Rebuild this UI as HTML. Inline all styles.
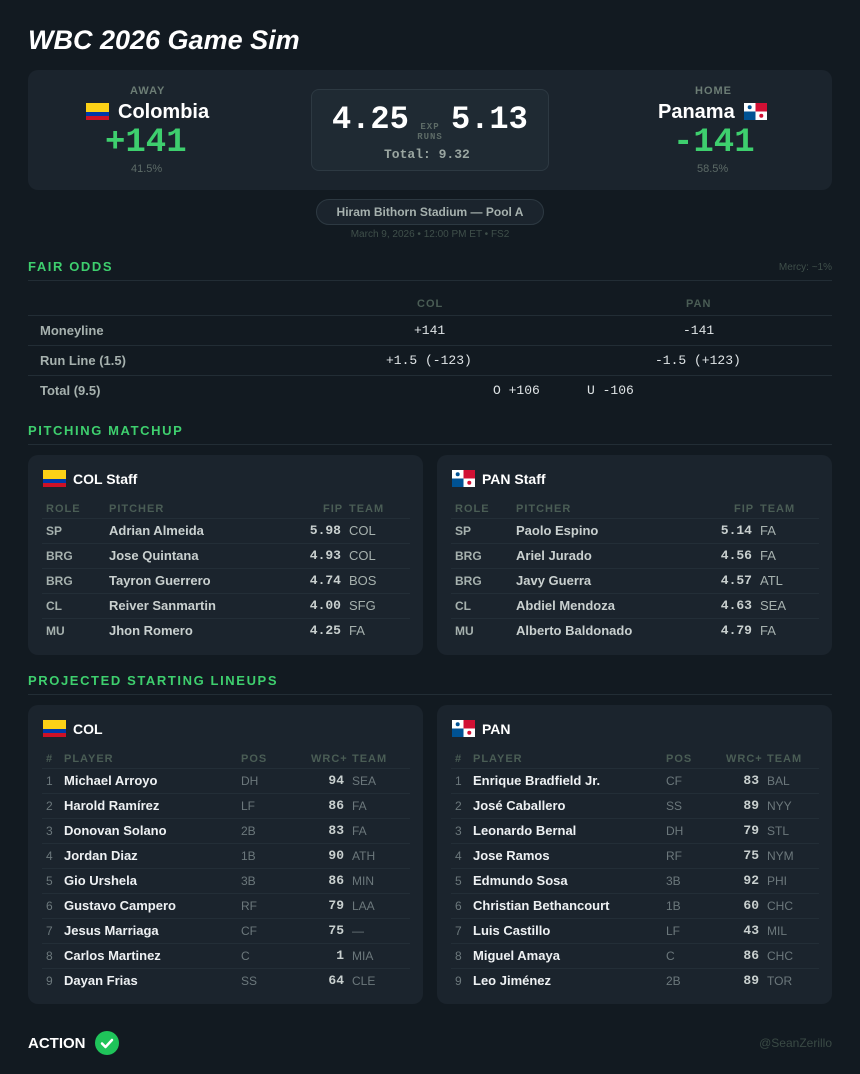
<!DOCTYPE html>
<html><head><meta charset="utf-8"><style>
*{margin:0;padding:0;box-sizing:border-box}
body{width:860px;height:1074px;background:#121a21;font-family:"Liberation Sans",sans-serif;position:relative;overflow:hidden;color:#e8ecef}
.a{position:absolute;white-space:nowrap}
.mono{font-family:"Liberation Mono",monospace}
.card{position:absolute;background:#1b242d;border-radius:10px}
.sec{position:absolute;left:28px;font-size:13px;font-weight:bold;letter-spacing:1.6px;color:#3ecf6e}
.line{position:absolute;left:28px;width:804px;height:1px;background:#222d35}
.hl{position:absolute;height:1px;background:#232e37}
.h{font-size:11px;letter-spacing:1px;color:#4a5d55;font-weight:bold}
.nm{font-size:13px;font-weight:bold;color:#c9d0cf}
.nw{font-size:13px;font-weight:bold;color:#eef1f3}
.rl{font-size:12px;font-weight:bold;color:#a6b1ae}
.tm{font-size:13px;color:#a6b1ae}
.tg{font-size:12px;color:#6c787c}
.num{font-family:"Liberation Mono",monospace;font-size:13px;font-weight:bold;color:#c9d0cf;text-align:right}
.ct{font-size:14px;font-weight:bold;color:#fff}
</style></head><body>
<div class="a" style="left:28px;top:25px;font-size:27px;font-weight:bold;font-style:italic;color:#fff">WBC 2026 Game Sim</div>

<div class="card" style="left:28px;top:70px;width:804px;height:120px"></div>
<div class="a h" style="left:130px;top:85px;font-size:11px;color:#6c7d75">AWAY</div>
<svg class="a" style="left:86px;top:103px" width="23" height="17"><rect width="23" height="9" fill="#fcd116"/><rect y="9" width="23" height="4" fill="#0038a8"/><rect y="13" width="23" height="4" fill="#ce1126"/></svg>
<div class="a" style="left:118px;top:101px;font-size:20px;font-weight:bold;color:#fff">Colombia</div>
<div class="a mono" style="left:105px;top:124px;font-size:34px;font-weight:bold;color:#3ecf6e">+141</div>
<div class="a" style="left:131px;top:163px;font-size:11px;color:#5d6b67">41.5%</div>

<div class="a" style="left:311px;top:89px;width:238px;height:82px;border:1px solid #2d3942;border-radius:8px;background:#1f2a33"></div>
<div class="a mono" style="left:332px;top:101px;font-size:32px;font-weight:bold;color:#fff">4.25</div>
<div class="a mono" style="left:451px;top:101px;font-size:32px;font-weight:bold;color:#fff">5.13</div>
<div class="a mono" style="left:415px;top:122px;width:30px;text-align:center;font-size:9px;font-weight:bold;color:#5d6b67;line-height:10px;letter-spacing:1px">EXP<br>RUNS</div>
<div class="a mono" style="left:384px;top:147px;font-size:13px;font-weight:bold;color:#9aa6a1">Total: 9.32</div>

<div class="a h" style="left:695px;top:85px;font-size:11px;color:#6c7d75">HOME</div>
<div class="a" style="left:658px;top:101px;font-size:20px;font-weight:bold;color:#fff">Panama</div>
<svg class="a" style="left:744px;top:103px" width="23" height="17"><rect width="23" height="17" fill="#fff"/><rect x="11.5" width="11.5" height="8.5" fill="#d21034"/><rect y="8.5" width="11.5" height="8.5" fill="#005293"/><circle cx="5.7" cy="4.2" r="2" fill="#005293"/><circle cx="17.3" cy="12.7" r="2" fill="#d21034"/></svg>
<div class="a mono" style="left:673px;top:124px;font-size:34px;font-weight:bold;color:#3ecf6e">-141</div>
<div class="a" style="left:697px;top:163px;font-size:11px;color:#5d6b67">58.5%</div>

<div class="a" style="left:316px;top:199px;width:228px;height:26px;border:1px solid #2d3942;border-radius:13px;background:#1b242d;text-align:center;line-height:24px;font-size:12px;font-weight:bold;color:#a6b1ae">Hiram Bithorn Stadium — Pool A</div>
<div class="a" style="left:316px;top:229px;width:228px;text-align:center;font-size:10px;color:#3f4f4a">March 9, 2026 • 12:00 PM ET • FS2</div>

<div class="sec" style="top:259px">FAIR ODDS</div>
<div class="a" style="right:28px;top:262px;font-size:10px;color:#3f4f4a">Mercy: ~1%</div>
<div class="line" style="top:280px"></div>
<div class="a h" style="left:417px;top:298px">COL</div>
<div class="a h" style="left:686px;top:298px">PAN</div>
<div class="line" style="top:315px"></div>
<div class="a" style="left:40px;top:323px;font-size:13px;font-weight:bold;color:#a6b1ae">Moneyline</div>
<div class="a mono" style="left:414px;top:323px;font-size:13px;color:#dfe4e6">+141</div>
<div class="a mono" style="left:683px;top:323px;font-size:13px;color:#dfe4e6">-141</div>
<div class="line" style="top:345px"></div>
<div class="a" style="left:40px;top:353px;font-size:13px;font-weight:bold;color:#a6b1ae">Run Line (1.5)</div>
<div class="a mono" style="left:386px;top:353px;font-size:13px;color:#dfe4e6">+1.5 (-123)</div>
<div class="a mono" style="left:655px;top:353px;font-size:13px;color:#dfe4e6">-1.5 (+123)</div>
<div class="line" style="top:375px"></div>
<div class="a" style="left:40px;top:383px;font-size:13px;font-weight:bold;color:#a6b1ae">Total (9.5)</div>
<div class="a mono" style="left:493px;top:383px;font-size:13px;color:#dfe4e6">O +106</div>
<div class="a mono" style="left:587px;top:383px;font-size:13px;color:#dfe4e6">U -106</div>

<div class="sec" style="top:423px">PITCHING MATCHUP</div>
<div class="line" style="top:444px"></div>

<div class="card" style="left:28px;top:455px;width:395px;height:200px"></div>
<div class="card" style="left:437px;top:455px;width:395px;height:200px"></div>
<svg class="a" style="left:43px;top:470px" width="23" height="17"><rect width="23" height="9" fill="#fcd116"/><rect y="9" width="23" height="4" fill="#0038a8"/><rect y="13" width="23" height="4" fill="#ce1126"/></svg>
<div class="a ct" style="left:73px;top:471px">COL Staff</div>
<svg class="a" style="left:452px;top:470px" width="23" height="17"><rect width="23" height="17" fill="#fff"/><rect x="11.5" width="11.5" height="8.5" fill="#d21034"/><rect y="8.5" width="11.5" height="8.5" fill="#005293"/><circle cx="5.7" cy="4.2" r="2" fill="#005293"/><circle cx="17.3" cy="12.7" r="2" fill="#d21034"/></svg>
<div class="a ct" style="left:482px;top:471px">PAN Staff</div>

<div class="a h" style="left:46px;top:503px">ROLE</div><div class="a h" style="left:109px;top:503px">PITCHER</div><div class="a h" style="left:323px;top:503px">FIP</div><div class="a h" style="left:349px;top:503px">TEAM</div>
<div class="a h" style="left:455px;top:503px">ROLE</div><div class="a h" style="left:516px;top:503px">PITCHER</div><div class="a h" style="left:734px;top:503px">FIP</div><div class="a h" style="left:760px;top:503px">TEAM</div>

<div class="hl" style="left:42px;width:368px;top:518px"></div><div class="hl" style="left:42px;width:368px;top:543px"></div><div class="hl" style="left:42px;width:368px;top:568px"></div><div class="hl" style="left:42px;width:368px;top:593px"></div><div class="hl" style="left:42px;width:368px;top:618px"></div>
<div class="hl" style="left:451px;width:368px;top:518px"></div><div class="hl" style="left:451px;width:368px;top:543px"></div><div class="hl" style="left:451px;width:368px;top:568px"></div><div class="hl" style="left:451px;width:368px;top:593px"></div><div class="hl" style="left:451px;width:368px;top:618px"></div>

<div class="a rl" style="left:46px;top:524px">SP</div><div class="a nm" style="left:109px;top:523px">Adrian Almeida</div><div class="a num" style="left:291px;width:50px;top:523px">5.98</div><div class="a tm" style="left:349px;top:523px">COL</div>
<div class="a rl" style="left:46px;top:549px">BRG</div><div class="a nm" style="left:109px;top:548px">Jose Quintana</div><div class="a num" style="left:291px;width:50px;top:548px">4.93</div><div class="a tm" style="left:349px;top:548px">COL</div>
<div class="a rl" style="left:46px;top:574px">BRG</div><div class="a nm" style="left:109px;top:573px">Tayron Guerrero</div><div class="a num" style="left:291px;width:50px;top:573px">4.74</div><div class="a tm" style="left:349px;top:573px">BOS</div>
<div class="a rl" style="left:46px;top:599px">CL</div><div class="a nm" style="left:109px;top:598px">Reiver Sanmartin</div><div class="a num" style="left:291px;width:50px;top:598px">4.00</div><div class="a tm" style="left:349px;top:598px">SFG</div>
<div class="a rl" style="left:46px;top:624px">MU</div><div class="a nm" style="left:109px;top:623px">Jhon Romero</div><div class="a num" style="left:291px;width:50px;top:623px">4.25</div><div class="a tm" style="left:349px;top:623px">FA</div>
<div class="a rl" style="left:455px;top:524px">SP</div><div class="a nm" style="left:516px;top:523px">Paolo Espino</div><div class="a num" style="left:702px;width:50px;top:523px">5.14</div><div class="a tm" style="left:760px;top:523px">FA</div>
<div class="a rl" style="left:455px;top:549px">BRG</div><div class="a nm" style="left:516px;top:548px">Ariel Jurado</div><div class="a num" style="left:702px;width:50px;top:548px">4.56</div><div class="a tm" style="left:760px;top:548px">FA</div>
<div class="a rl" style="left:455px;top:574px">BRG</div><div class="a nm" style="left:516px;top:573px">Javy Guerra</div><div class="a num" style="left:702px;width:50px;top:573px">4.57</div><div class="a tm" style="left:760px;top:573px">ATL</div>
<div class="a rl" style="left:455px;top:599px">CL</div><div class="a nm" style="left:516px;top:598px">Abdiel Mendoza</div><div class="a num" style="left:702px;width:50px;top:598px">4.63</div><div class="a tm" style="left:760px;top:598px">SEA</div>
<div class="a rl" style="left:455px;top:624px">MU</div><div class="a nm" style="left:516px;top:623px">Alberto Baldonado</div><div class="a num" style="left:702px;width:50px;top:623px">4.79</div><div class="a tm" style="left:760px;top:623px">FA</div>

<div class="sec" style="top:673px">PROJECTED STARTING LINEUPS</div>
<div class="line" style="top:694px"></div>

<div class="card" style="left:28px;top:705px;width:395px;height:299px"></div>
<div class="card" style="left:437px;top:705px;width:395px;height:299px"></div>
<svg class="a" style="left:43px;top:720px" width="23" height="17"><rect width="23" height="9" fill="#fcd116"/><rect y="9" width="23" height="4" fill="#0038a8"/><rect y="13" width="23" height="4" fill="#ce1126"/></svg>
<div class="a ct" style="left:73px;top:721px">COL</div>
<svg class="a" style="left:452px;top:720px" width="23" height="17"><rect width="23" height="17" fill="#fff"/><rect x="11.5" width="11.5" height="8.5" fill="#d21034"/><rect y="8.5" width="11.5" height="8.5" fill="#005293"/><circle cx="5.7" cy="4.2" r="2" fill="#005293"/><circle cx="17.3" cy="12.7" r="2" fill="#d21034"/></svg>
<div class="a ct" style="left:482px;top:721px">PAN</div>

<div class="a h" style="left:46px;top:753px">#</div><div class="a h" style="left:64px;top:753px">PLAYER</div><div class="a h" style="left:241px;top:753px">POS</div><div class="a h" style="left:311px;top:753px">WRC+</div><div class="a h" style="left:352px;top:753px">TEAM</div>
<div class="a h" style="left:455px;top:753px">#</div><div class="a h" style="left:473px;top:753px">PLAYER</div><div class="a h" style="left:666px;top:753px">POS</div><div class="a h" style="left:726px;top:753px">WRC+</div><div class="a h" style="left:767px;top:753px">TEAM</div>

<div class="hl" style="left:42px;width:368px;top:768px"></div><div class="hl" style="left:42px;width:368px;top:793px"></div><div class="hl" style="left:42px;width:368px;top:818px"></div><div class="hl" style="left:42px;width:368px;top:843px"></div><div class="hl" style="left:42px;width:368px;top:868px"></div><div class="hl" style="left:42px;width:368px;top:893px"></div><div class="hl" style="left:42px;width:368px;top:918px"></div><div class="hl" style="left:42px;width:368px;top:943px"></div><div class="hl" style="left:42px;width:368px;top:968px"></div>
<div class="hl" style="left:451px;width:368px;top:768px"></div><div class="hl" style="left:451px;width:368px;top:793px"></div><div class="hl" style="left:451px;width:368px;top:818px"></div><div class="hl" style="left:451px;width:368px;top:843px"></div><div class="hl" style="left:451px;width:368px;top:868px"></div><div class="hl" style="left:451px;width:368px;top:893px"></div><div class="hl" style="left:451px;width:368px;top:918px"></div><div class="hl" style="left:451px;width:368px;top:943px"></div><div class="hl" style="left:451px;width:368px;top:968px"></div>

<div class="a tg" style="left:46px;top:774px">1</div><div class="a nw" style="left:64px;top:773px">Michael Arroyo</div><div class="a tg" style="left:241px;top:774px">DH</div><div class="a num" style="left:294px;width:50px;top:773px">94</div><div class="a tg" style="left:352px;top:774px">SEA</div>
<div class="a tg" style="left:46px;top:799px">2</div><div class="a nw" style="left:64px;top:798px">Harold Ramírez</div><div class="a tg" style="left:241px;top:799px">LF</div><div class="a num" style="left:294px;width:50px;top:798px">86</div><div class="a tg" style="left:352px;top:799px">FA</div>
<div class="a tg" style="left:46px;top:824px">3</div><div class="a nw" style="left:64px;top:823px">Donovan Solano</div><div class="a tg" style="left:241px;top:824px">2B</div><div class="a num" style="left:294px;width:50px;top:823px">83</div><div class="a tg" style="left:352px;top:824px">FA</div>
<div class="a tg" style="left:46px;top:849px">4</div><div class="a nw" style="left:64px;top:848px">Jordan Diaz</div><div class="a tg" style="left:241px;top:849px">1B</div><div class="a num" style="left:294px;width:50px;top:848px">90</div><div class="a tg" style="left:352px;top:849px">ATH</div>
<div class="a tg" style="left:46px;top:874px">5</div><div class="a nw" style="left:64px;top:873px">Gio Urshela</div><div class="a tg" style="left:241px;top:874px">3B</div><div class="a num" style="left:294px;width:50px;top:873px">86</div><div class="a tg" style="left:352px;top:874px">MIN</div>
<div class="a tg" style="left:46px;top:899px">6</div><div class="a nw" style="left:64px;top:898px">Gustavo Campero</div><div class="a tg" style="left:241px;top:899px">RF</div><div class="a num" style="left:294px;width:50px;top:898px">79</div><div class="a tg" style="left:352px;top:899px">LAA</div>
<div class="a tg" style="left:46px;top:924px">7</div><div class="a nw" style="left:64px;top:923px">Jesus Marriaga</div><div class="a tg" style="left:241px;top:924px">CF</div><div class="a num" style="left:294px;width:50px;top:923px">75</div><div class="a tg" style="left:352px;top:924px">—</div>
<div class="a tg" style="left:46px;top:949px">8</div><div class="a nw" style="left:64px;top:948px">Carlos Martinez</div><div class="a tg" style="left:241px;top:949px">C</div><div class="a num" style="left:294px;width:50px;top:948px">1</div><div class="a tg" style="left:352px;top:949px">MIA</div>
<div class="a tg" style="left:46px;top:974px">9</div><div class="a nw" style="left:64px;top:973px">Dayan Frias</div><div class="a tg" style="left:241px;top:974px">SS</div><div class="a num" style="left:294px;width:50px;top:973px">64</div><div class="a tg" style="left:352px;top:974px">CLE</div>
<div class="a tg" style="left:455px;top:774px">1</div><div class="a nw" style="left:473px;top:773px">Enrique Bradfield Jr.</div><div class="a tg" style="left:666px;top:774px">CF</div><div class="a num" style="left:709px;width:50px;top:773px">83</div><div class="a tg" style="left:767px;top:774px">BAL</div>
<div class="a tg" style="left:455px;top:799px">2</div><div class="a nw" style="left:473px;top:798px">José Caballero</div><div class="a tg" style="left:666px;top:799px">SS</div><div class="a num" style="left:709px;width:50px;top:798px">89</div><div class="a tg" style="left:767px;top:799px">NYY</div>
<div class="a tg" style="left:455px;top:824px">3</div><div class="a nw" style="left:473px;top:823px">Leonardo Bernal</div><div class="a tg" style="left:666px;top:824px">DH</div><div class="a num" style="left:709px;width:50px;top:823px">79</div><div class="a tg" style="left:767px;top:824px">STL</div>
<div class="a tg" style="left:455px;top:849px">4</div><div class="a nw" style="left:473px;top:848px">Jose Ramos</div><div class="a tg" style="left:666px;top:849px">RF</div><div class="a num" style="left:709px;width:50px;top:848px">75</div><div class="a tg" style="left:767px;top:849px">NYM</div>
<div class="a tg" style="left:455px;top:874px">5</div><div class="a nw" style="left:473px;top:873px">Edmundo Sosa</div><div class="a tg" style="left:666px;top:874px">3B</div><div class="a num" style="left:709px;width:50px;top:873px">92</div><div class="a tg" style="left:767px;top:874px">PHI</div>
<div class="a tg" style="left:455px;top:899px">6</div><div class="a nw" style="left:473px;top:898px">Christian Bethancourt</div><div class="a tg" style="left:666px;top:899px">1B</div><div class="a num" style="left:709px;width:50px;top:898px">60</div><div class="a tg" style="left:767px;top:899px">CHC</div>
<div class="a tg" style="left:455px;top:924px">7</div><div class="a nw" style="left:473px;top:923px">Luis Castillo</div><div class="a tg" style="left:666px;top:924px">LF</div><div class="a num" style="left:709px;width:50px;top:923px">43</div><div class="a tg" style="left:767px;top:924px">MIL</div>
<div class="a tg" style="left:455px;top:949px">8</div><div class="a nw" style="left:473px;top:948px">Miguel Amaya</div><div class="a tg" style="left:666px;top:949px">C</div><div class="a num" style="left:709px;width:50px;top:948px">86</div><div class="a tg" style="left:767px;top:949px">CHC</div>
<div class="a tg" style="left:455px;top:974px">9</div><div class="a nw" style="left:473px;top:973px">Leo Jiménez</div><div class="a tg" style="left:666px;top:974px">2B</div><div class="a num" style="left:709px;width:50px;top:973px">89</div><div class="a tg" style="left:767px;top:974px">TOR</div>

<div class="a" style="left:28px;top:1035px;font-size:15px;font-weight:bold;color:#fff">ACTION</div>
<svg class="a" style="left:95px;top:1031px" width="24" height="24"><circle cx="12" cy="12" r="12" fill="#1fc45a"/><path d="M7 12.5l3.5 3.5 6.5-7" stroke="#fff" stroke-width="2.5" fill="none" stroke-linecap="round" stroke-linejoin="round"/></svg>
<div class="a" style="right:28px;top:1036px;font-size:12px;color:#3a4a45">@SeanZerillo</div>
</body></html>
